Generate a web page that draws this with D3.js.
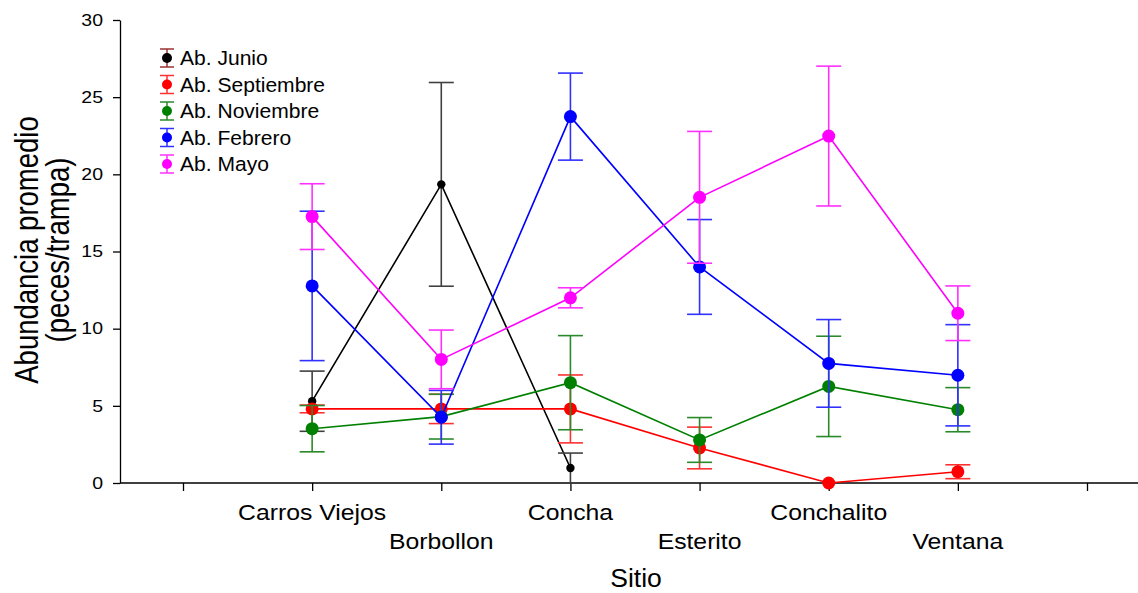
<!DOCTYPE html>
<html><head><meta charset="utf-8">
<script src="https://cdn.jsdelivr.net/npm/d3@7"></script>
<style>body{margin:0;background:#fff}svg{display:block;font-family:Arial,"Liberation Sans",sans-serif}</style>
</head><body><svg id="c" width="1138" height="593"></svg>
<script>
const sites = ["Carros Viejos","Borbollon","Concha","Esterito","Conchalito","Ventana"];
const sitePos = [1,2,3,4,5,6];
const yTicks = [0,5,10,15,20,25,30];
const seriesNames = ["Ab. Junio","Ab. Septiembre","Ab. Noviembre","Ab. Febrero","Ab. Mayo"];
const seriesColors = ["#000000","#ff0000","#008000","#0000ff","#ff00ff"];
const barColors = ["#404040","#ff3030","#2a8a2a","#3030ff","#ff30ff"];
const legendBarColors = ["#993333","#ff3030","#2a8a2a","#3030ff","#ff30ff"];
const junio = [5.3, 19.35, 0.97, null, null, null];
const junioErr = [1.95, 6.6, 0.97, null, null, null];
const septiembre = [4.8, 4.8, 4.8, 2.27, 0.0, 0.73];
const septiembreErr = [0.25, 0.95, 2.2, 1.35, 0, 0.45];
const noviembre = [3.52, 4.3, 6.5, 2.79, 6.26, 4.75];
const noviembreErr = [1.5, 1.45, 3.05, 1.45, 3.25, 1.43];
const febrero = [12.77, 4.26, 23.74, 14.0, 7.75, 6.98];
const febreroErr = [4.84, 1.74, 2.82, 3.07, 2.84, 3.28];
const mayo = [17.26, 8.01, 12.0, 18.51, 22.48, 11.0];
const mayoErr = [2.13, 1.9, 0.65, 4.27, 4.53, 1.77];

const values = [junio, septiembre, noviembre, febrero, mayo];
const errors = [junioErr, septiembreErr, noviembreErr, febreroErr, mayoErr];

const svg = d3.select("#c");
const x = d3.scaleLinear().domain([0,7]).range([183,1087]);
const y = d3.scaleLinear().domain([0,30]).range([483,20]);

function stxt(parent, tx, ty, sx, size, anchor, str, rot){
  return parent.append("text")
    .attr("transform", `translate(${tx},${ty}) scale(${sx},1)` + (rot ? ` rotate(${rot})` : ""))
    .attr("text-anchor", anchor).attr("font-size", size).attr("fill","#000").text(str);
}

// y axis
const yAx = svg.append("g").attr("transform","translate(120,0)")
  .call(d3.axisLeft(y).tickValues(yTicks).tickSize(7).tickFormat("").tickSizeOuter(0));
yAx.select(".domain").attr("stroke","#000").attr("stroke-width",1.3);
yAx.selectAll("line").attr("stroke","#000").attr("stroke-width",1.3);
yTicks.forEach(t => stxt(svg, 103, y(t)+5.8, 1.18, 16.5, "end", String(t)));

// x axis
const xAx = svg.append("g").attr("transform","translate(0,483)")
  .call(d3.axisBottom(x).tickValues(d3.range(0,8)).tickSize(8).tickFormat("").tickSizeOuter(0));
xAx.select(".domain").remove();
xAx.selectAll("line").attr("stroke","#000").attr("stroke-width",1.3);
svg.append("line").attr("x1",120).attr("x2",1138).attr("y1",483).attr("y2",483).attr("stroke","#000").attr("stroke-width",1.3);
sites.forEach((s,i) => stxt(svg, x(sitePos[i]), i%2===0 ? 520 : 549, 1.1, 22.5, "middle", s));

stxt(svg, 636, 587, 1, 26.5, "middle", "Sitio");
stxt(svg, 38, 250, 1.2, 27.5, "middle", "Abundancia promedio", -90);
stxt(svg, 69, 250, 1.2, 27.5, "middle", "(peces/trampa)", -90);

// series
values.forEach((vals,s)=>{
  const pts = vals.map((v,i)=>({v, e: errors[s][i], p: sitePos[i]})).filter(d=>d.v!==null);
  const g = svg.append("g");
  g.append("path").datum(pts)
    .attr("d", d3.line().x(d=>x(d.p)).y(d=>y(d.v)))
    .attr("fill","none").attr("stroke",seriesColors[s]).attr("stroke-width",1.6);
  pts.forEach(d=>{
    if (d.e>0){
      const lo = Math.max(0,d.v-d.e), hi = d.v+d.e;
      g.append("line").attr("x1",x(d.p)).attr("x2",x(d.p)).attr("y1",y(lo)).attr("y2",y(hi)).attr("stroke",barColors[s]).attr("stroke-width",1.6);
      [lo,hi].forEach(c=>g.append("line").attr("x1",x(d.p)-12.5).attr("x2",x(d.p)+12.5).attr("y1",y(c)).attr("y2",y(c)).attr("stroke",barColors[s]).attr("stroke-width",1.6));
    }
  });
  g.selectAll("circle").data(pts).enter().append("circle")
    .attr("cx",d=>x(d.p)).attr("cy",d=>y(d.v)).attr("r", s===0?4.2:6.5).attr("fill",seriesColors[s]);
});

// legend
const lg = svg.append("g");
seriesNames.forEach((n,i)=>{
  const cy = 58 + i*26.5, cx = 167;
  lg.append("line").attr("x1",cx).attr("x2",cx).attr("y1",cy-9).attr("y2",cy+9).attr("stroke",legendBarColors[i]).attr("stroke-width",1.5);
  [cy-9,cy+9].forEach(c=>lg.append("line").attr("x1",cx-7).attr("x2",cx+7).attr("y1",c).attr("y2",c).attr("stroke",legendBarColors[i]).attr("stroke-width",1.5));
  lg.append("circle").attr("cx",cx).attr("cy",cy).attr("r",5).attr("fill",seriesColors[i]);
  stxt(lg, 180, cy+7, 1.08, 19.5, "start", n);
});
</script></body></html>
